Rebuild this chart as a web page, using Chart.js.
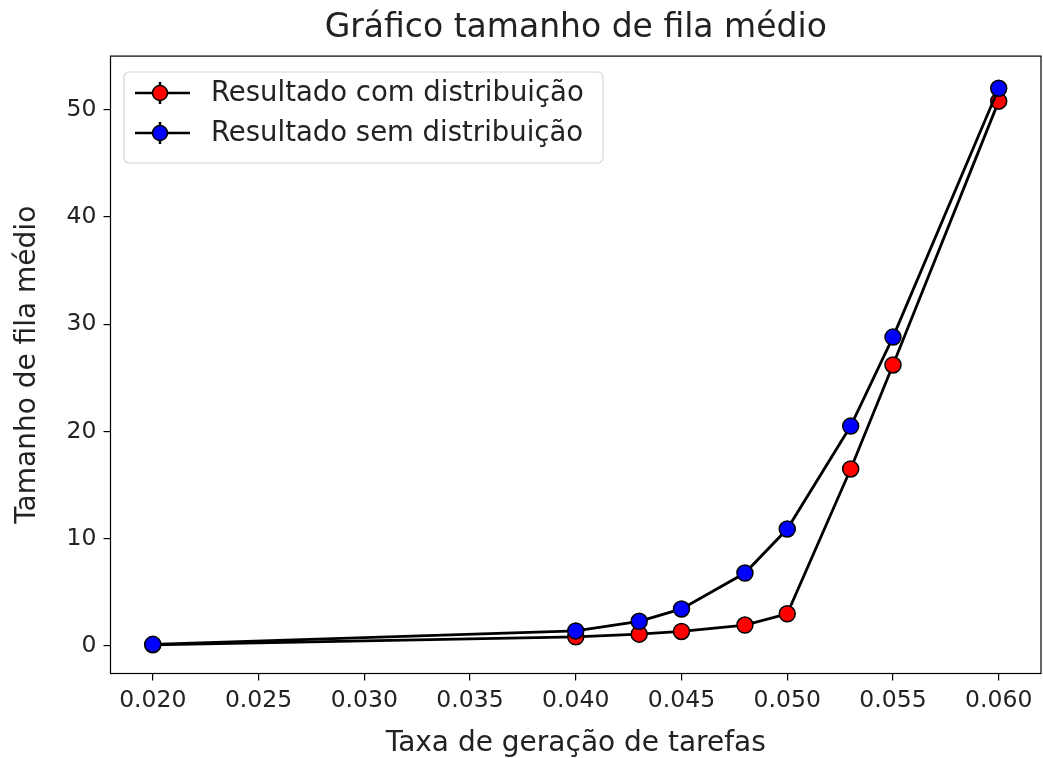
<!DOCTYPE html>
<html>
<head>
<meta charset="utf-8">
<script src="https://cdn.jsdelivr.net/npm/chart.js@4/dist/chart.umd.min.js"></script>
<style>
  html, body { margin: 0; padding: 0; background: #fff; }
  #wrap { width: 1043px; height: 758px; }
</style>
</head>
<body>
<div id="wrap"><canvas id="myChart" width="1043" height="758"></canvas></div>
<script>
// data
var taxas = [0.020, 0.040, 0.043, 0.045, 0.048, 0.050, 0.053, 0.055, 0.060];
var comDistribuicao = [0.1, 0.85, 1.1, 1.35, 1.95, 3.0, 16.5, 26.2, 50.8];
var semDistribuicao = [0.15, 1.4, 2.3, 3.45, 6.8, 10.9, 20.5, 28.8, 52.0];
var xTicks = [0.020, 0.025, 0.030, 0.035, 0.040, 0.045, 0.050, 0.055, 0.060];
var yTicks = [0, 10, 20, 30, 40, 50];
var nomes = ['Resultado com distribuição', 'Resultado sem distribuição'];
var cores = ['#ff0000', '#0000ff'];

function pontos(ys) {
    return taxas.map(function (x, i) { return { x: x, y: ys[i] }; });
}

var FONT = "'DejaVu Sans', sans-serif";

// frame around the plot + legend box like matplotlib
var moldura = {
    id: 'moldura',
    afterDraw: function (chart) {
        var c = chart.ctx, a = chart.chartArea;
        c.save();
        c.strokeStyle = '#000';
        c.lineWidth = 1.2;
        c.strokeRect(a.left, a.top, a.right - a.left, a.bottom - a.top);

        // legend
        var bx = 124, by = 72, bw = 479, bh = 91, r = 5;
        c.fillStyle = 'rgba(255,255,255,0.8)';
        c.strokeStyle = '#d6d6d6';
        c.lineWidth = 1.2;
        c.beginPath();
        c.moveTo(bx + r, by);
        c.arcTo(bx + bw, by, bx + bw, by + bh, r);
        c.arcTo(bx + bw, by + bh, bx, by + bh, r);
        c.arcTo(bx, by + bh, bx, by, r);
        c.arcTo(bx, by, bx + bw, by, r);
        c.closePath();
        c.fill();
        c.stroke();

        for (var i = 0; i < nomes.length; i++) {
            var yy = 93 + i * 40;
            c.strokeStyle = '#000';
            c.lineWidth = 2.5;
            c.beginPath();
            c.moveTo(135, yy); c.lineTo(190, yy);
            c.moveTo(160, yy - 11); c.lineTo(160, yy + 11);
            c.stroke();
            c.beginPath();
            c.arc(160, yy, 7.5, 0, Math.PI * 2);
            c.fillStyle = cores[i];
            c.fill();
            c.lineWidth = 1.5;
            c.stroke();
            c.fillStyle = '#222';
            c.font = '27.5px ' + FONT;
            c.textBaseline = 'middle';
            c.textAlign = 'left';
            c.fillText(nomes[i], 211, yy + 1);
        }
        c.restore();
    }
};

var ctx = document.getElementById('myChart').getContext('2d');

var myChart = new Chart(ctx, {
    type: 'scatter',
    data: {
        datasets: [{
            label: nomes[0],
            data: pontos(comDistribuicao),
            showLine: true,
            borderColor: '#000',
            borderWidth: 2.8,
            pointBackgroundColor: cores[0],
            pointBorderColor: '#000',
            pointBorderWidth: 1.5,
            pointRadius: 8,
            order: 2
        }, {
            label: nomes[1],
            data: pontos(semDistribuicao),
            showLine: true,
            borderColor: '#000',
            borderWidth: 2.8,
            pointBackgroundColor: cores[1],
            pointBorderColor: '#000',
            pointBorderWidth: 1.5,
            pointRadius: 8,
            order: 1
        }]
    },
    options: {
        responsive: false,
        animation: false,
        layout: { autoPadding: false, padding: { left: 0, right: 2, top: 0, bottom: 0 } },
        plugins: {
            legend: { display: false },
            tooltip: { enabled: false },
            title: {
                display: true,
                fullSize: false,
                text: 'Gráfico tamanho de fila médio',
                color: '#222',
                font: { family: FONT, size: 33, weight: 'normal', lineHeight: 1.2 },
                padding: { top: 9, bottom: 7.5 }
            }
        },
        scales: {
            x: {
                type: 'linear',
                min: 0.018,
                max: 0.062,
                afterFit: function (s) { s.height = 84.5; s.paddingLeft = 0; s.paddingRight = 0; },
                afterBuildTicks: function (s) {
                    s.ticks = xTicks.map(function (v) { return { value: v }; });
                },
                grid: { display: true, drawOnChartArea: false, tickLength: 7, color: '#000', lineWidth: 1.2 },
                border: { display: false },
                ticks: {
                    color: '#222',
                    padding: 6,
                    maxRotation: 0,
                    font: { family: FONT, size: 23.5 },
                    callback: function (v) { return v.toFixed(3); }
                },
                title: {
                    display: true,
                    text: 'Taxa de geração de tarefas',
                    color: '#222',
                    font: { family: FONT, size: 28, lineHeight: 1.0 },
                    padding: { top: -5, bottom: 0 }
                }
            },
            y: {
                min: -2.57,
                max: 55.0,
                afterFit: function (s) { s.width = 110.5; },
                afterBuildTicks: function (s) {
                    s.ticks = yTicks.map(function (v) { return { value: v }; });
                },
                grid: { display: true, drawOnChartArea: false, tickLength: 7, color: '#000', lineWidth: 1.2 },
                border: { display: false },
                ticks: {
                    color: '#222',
                    padding: 7,
                    font: { family: FONT, size: 23.5 }
                },
                title: {
                    display: true,
                    text: 'Tamanho de fila médio',
                    color: '#222',
                    font: { family: FONT, size: 28, lineHeight: 1.0 },
                    padding: { top: 14, bottom: 4 }
                }
            }
        }
    },
    plugins: [moldura]
});
</script>
</body>
</html>
